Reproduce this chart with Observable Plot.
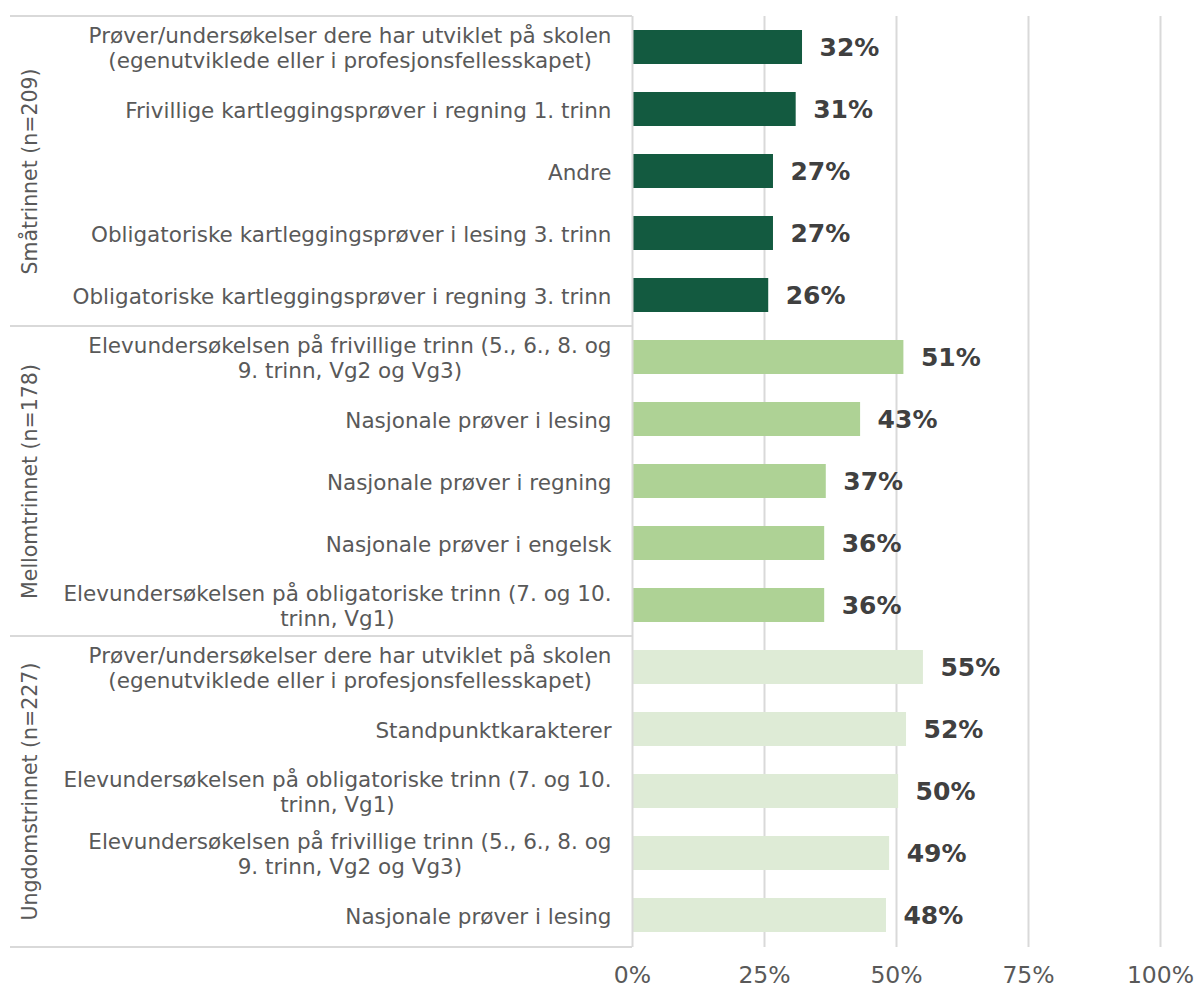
<!DOCTYPE html>
<html><head><meta charset="utf-8">
<script src="https://cdn.jsdelivr.net/npm/d3@7"></script>
<script src="https://cdn.jsdelivr.net/npm/@observablehq/plot@0.6"></script>
<style>body{margin:0;background:#fff} svg{display:block}</style>
</head><body><div id="chart"></div>
<script>
const groups = ["Småtrinnet (n=209)", "Mellomtrinnet (n=178)", "Ungdomstrinnet (n=227)"];

const smaLabels = [
  "Prøver/undersøkelser dere har utviklet på skolen\n(egenutviklede eller i profesjonsfellesskapet)",
  "Frivillige kartleggingsprøver i regning 1. trinn",
  "Andre",
  "Obligatoriske kartleggingsprøver i lesing 3. trinn",
  "Obligatoriske kartleggingsprøver i regning 3. trinn"
];
const smaValues = [32.2, 31.0, 26.7, 26.7, 25.8];

const mellomLabels = [
  "Elevundersøkelsen på frivillige trinn (5., 6., 8. og\n9. trinn, Vg2 og Vg3)",
  "Nasjonale prøver i lesing",
  "Nasjonale prøver i regning",
  "Nasjonale prøver i engelsk",
  "Elevundersøkelsen på obligatoriske trinn (7. og 10.\ntrinn, Vg1)"
];
const mellomValues = [51.4, 43.2, 36.7, 36.4, 36.4];

const ungdomLabels = [
  "Prøver/undersøkelser dere har utviklet på skolen\n(egenutviklede eller i profesjonsfellesskapet)",
  "Standpunktkarakterer",
  "Elevundersøkelsen på obligatoriske trinn (7. og 10.\ntrinn, Vg1)",
  "Elevundersøkelsen på frivillige trinn (5., 6., 8. og\n9. trinn, Vg2 og Vg3)",
  "Nasjonale prøver i lesing"
];
const ungdomValues = [55.1, 51.9, 50.4, 48.7, 48.1];

const xTicks = [0, 25, 50, 75, 100];
const groupColors = ["#135a40", "#aed295", "#deebd6"];

// build table
const groupLabels = [smaLabels, mellomLabels, ungdomLabels];
const groupValues = [smaValues, mellomValues, ungdomValues];
const rows = [];
groups.forEach((g, gi) => {
  groupLabels[gi].forEach((label, i) => {
    rows.push({group: g, label, value: groupValues[gi][i], key: g + "|" + label});
  });
});
const keys = rows.map(d => d.key);
const groupMid = groups.map((g, gi) => ({group: g, key: g + "|" + groupLabels[gi][2]}));

const W = 1196, H = 990, mt = 16, mb = 43, ml = 632, mr = 36;
const padInner = 0.45, padOuter = 0.225;
const font = "DejaVu Sans";

const plot = Plot.plot({
  width: W, height: H,
  marginTop: mt, marginBottom: mb, marginLeft: ml, marginRight: mr,
  style: {fontFamily: font, background: "#fff"},
  x: {domain: [0, 100], axis: null, label: null},
  y: {domain: keys, paddingInner: padInner, paddingOuter: padOuter, axis: null},
  color: {domain: groups, range: groupColors},
  marks: [
    Plot.ruleX(xTicks.filter(t => t > 0), {x: d => d, stroke: "#d9d9d9", strokeWidth: 2}),
    Plot.barX(rows, {y: "key", x: "value", fill: "group"}),
    Plot.ruleX([0], {stroke: "#d9d9d9", strokeWidth: 2}),
    Plot.text(rows, {y: "key", x: "value", text: d => Math.round(d.value) + "%",
      textAnchor: "start", dx: 17, fill: "#404040", fontWeight: "bold", fontSize: 25}),
    Plot.text(rows, {y: "key", frameAnchor: "left", text: "label", textAnchor: "end",
      dx: -21, fill: "#595959", fontSize: 21.5, lineHeight: 1.17, className: "ylab"}),
    Plot.text(groupMid, {y: "key", frameAnchor: "left", text: "group", rotate: -90,
      textAnchor: "middle", dx: -602, fill: "#595959", fontSize: 20.5}),
    Plot.axisX(xTicks, {tickFormat: d => d + "%", tickSize: 0, tickPadding: 19, label: null,
      fontSize: 23.5, fill: "#595959", color: "#595959"})
  ]
});
document.getElementById("chart").appendChild(plot);

// center the lines of multi-line category labels within their right-aligned block
d3.select(plot).selectAll("g.ylab text").each(function() {
  const tspans = this.querySelectorAll("tspan");
  if (tspans.length < 2) return;
  let maxW = 0;
  tspans.forEach(t => { maxW = Math.max(maxW, t.getComputedTextLength()); });
  this.setAttribute("text-anchor", "middle");
  const tr = this.getAttribute("transform") || "";
  this.setAttribute("transform", tr + ` translate(${-maxW / 2},0)`);
});

// group separators from the y scale (apply gives band start)
const ysDesc = plot.scale("y");
const ys = ysDesc.apply ? ysDesc : Plot.scale({y: ysDesc});
const step = ys.apply(keys[1]) - ys.apply(keys[0]);
const bw = ysDesc.bandwidth != null ? ysDesc.bandwidth : step * (1 - padInner);
const sepYs = [mt];
for (let gi = 1; gi < groups.length; gi++) {
  const a = ys.apply(groups[gi - 1] + "|" + groupLabels[gi - 1][4]) + bw;
  const b = ys.apply(groups[gi] + "|" + groupLabels[gi][0]);
  sepYs.push((a + b) / 2);
}
sepYs.push(H - mb);
d3.select(plot).append("g").selectAll("line").data(sepYs).join("line")
  .attr("x1", 10).attr("x2", ml).attr("y1", d => d).attr("y2", d => d)
  .attr("stroke", "#d9d9d9").attr("stroke-width", 2);
</script>
</body></html>
